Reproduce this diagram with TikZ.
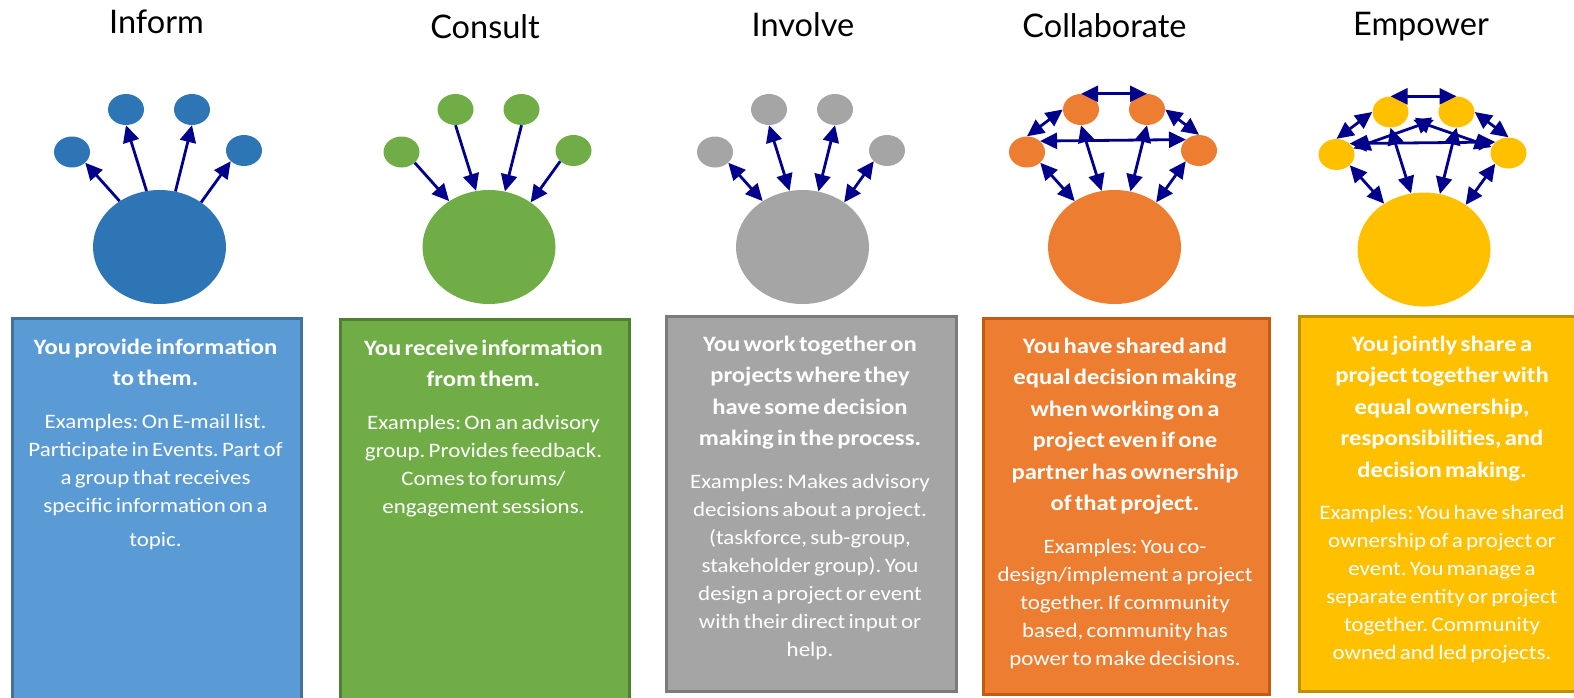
\documentclass[tikz,border=0pt]{standalone}
\usepackage{fontspec}
\setmainfont{Carlito}[FakeStretch=1.12]
\newfontfamily\headfont{Lato}
\usetikzlibrary{shapes.geometric,arrows.meta,positioning}
\setlength{\parindent}{0pt}
\frenchspacing

\definecolor{navy}{RGB}{0,0,140}
\definecolor{infdot}{HTML}{2E75B6}
\definecolor{inffill}{HTML}{5B9BD5}
\definecolor{infline}{HTML}{41719C}
\definecolor{congreen}{HTML}{70AD47}
\definecolor{conline}{HTML}{507E32}
\definecolor{invgrey}{HTML}{A5A5A5}
\definecolor{invline}{HTML}{7B7B7B}
\definecolor{colorange}{HTML}{ED7D31}
\definecolor{colline}{HTML}{C55A11}
\definecolor{empyellow}{HTML}{FFC000}
\definecolor{empline}{HTML}{BF9000}

\begin{document}
\begin{tikzpicture}[x=1pt,y=-1pt]

\tikzset{hub/.style = {ellipse, minimum width=133pt, minimum height=114pt, inner sep=0pt}}
\tikzset{leaf/.style = {ellipse, minimum width=36pt, minimum height=31pt, inner sep=0pt}}
\tikzset{card/.style = {rectangle, anchor=north west, line width=2.5pt, inner sep=0pt}}
\tikzset{blurb/.style = {anchor=north, text width=284pt, align=center, text=white, inner sep=0pt}}
\tikzset{heading/.style = {anchor=base, font=\headfont\fontsize{32.5}{38}\selectfont}}
\tikzset{arc/.style = {line width=2.8pt, draw=navy, >={Triangle[length=17pt,width=16pt]}}}
\newcommand{\bold}{\bfseries\fontsize{22}{31.5}\selectfont\strut}
\newcommand{\plain}{\par\vspace{14.5pt}\mdseries\fontsize{20.5}{28}\selectfont}

\useasboundingbox (0,0) rectangle (1574,697);

% boxes
\node[card, fill=inffill, draw=infline, minimum width=289pt, minimum height=395pt] (infbox) at (11,317) {};
\node[card, fill=congreen, draw=conline, minimum width=289pt, minimum height=395pt] (conbox) at (339,318) {};
\node[card, fill=invgrey, draw=invline, minimum width=290pt, minimum height=375pt] (invbox) at (665,315) {};
\node[card, fill=colorange, draw=colline, minimum width=286pt, minimum height=376pt] (colbox) at (982,317) {};
\node[card, fill=empyellow, draw=empline, minimum width=288pt, minimum height=375pt] (empbox) at (1298,315) {};

% box texts
\node[blurb] (inftext) at (155.5,332) {\bold You provide information\\to them.
  \plain Examples: On E-mail list.\\Participate in Events. Part of\\a group that receives\\specific information on a\\[6pt]topic.\par};
\node[blurb] (context) at (483.5,333) {\bold You receive information\\from them.
  \plain Examples: On an advisory\\group. Provides feedback.\\Comes to forums/\\engagement sessions.\par};
\node[blurb] (invtext) at (810,329) {\bold You work together on\\projects where they\\have some decision\\making in the process.
  \plain Examples: Makes advisory\\decisions about a project.\\(taskforce, sub-group,\\stakeholder group). You\\design a project or event\\with their direct input or\\help.\par};
\node[blurb] (coltext) at (1125,331) {\bold You have shared and\\equal decision making\\when working on a\\project even if one\\partner has ownership\\of that project.
  \plain Examples: You co-\\design/implement a project\\together. If community\\based, community has\\power to make decisions.\par};
\node[blurb] (emptext) at (1442,329) {\bold You jointly share a\\project together with\\equal ownership,\\responsibilities, and\\decision making.
  \plain Examples: You have shared\\ownership of a project or\\event. You manage a\\separate entity or project\\together. Community\\owned and led projects.\par};

% labels
\node[heading] (inflabel) at (156.5,33) {Inform};
\node[heading] (conlabel) at (485,38) {Consult};
\node[heading] (invlabel) at (803,36) {Involve};
\node[heading] (collabel) at (1104.5,37) {Collaborate};
\node[heading] (emplabel) at (1421,35) {Empower};

% inform
\node[hub, fill=infdot] (inf) at (159.5,247) {};
\node[leaf, fill=infdot] (inf1) at (72,152) {};
\node[leaf, fill=infdot] (inf2) at (126,109.5) {};
\node[leaf, fill=infdot] (inf3) at (192,109.5) {};
\node[leaf, fill=infdot] (inf4) at (244,150.5) {};
\draw[arc, ->] (inf.131) to (inf1.-39);
\draw[arc, ->] (inf.103) to (inf2.-90);
\draw[arc, ->] (inf.74) to (inf3.-90);
\draw[arc, ->] (inf.47) to (inf4.219);

% consult
\node[hub, fill=congreen] (con) at (489,247) {};
\node[leaf, fill=congreen] (con1) at (401.5,152) {};
\node[leaf, fill=congreen] (con2) at (455.5,109.5) {};
\node[leaf, fill=congreen] (con3) at (521.5,109.5) {};
\node[leaf, fill=congreen] (con4) at (573.5,150.5) {};
\draw[arc, <-] (con.131) to (con1.-39);
\draw[arc, <-] (con.103) to (con2.-90);
\draw[arc, <-] (con.74) to (con3.-90);
\draw[arc, <-] (con.47) to (con4.219);

% involve
\node[hub, fill=invgrey] (inv) at (802.5,247) {};
\node[leaf, fill=invgrey] (inv1) at (715,152) {};
\node[leaf, fill=invgrey] (inv2) at (769,109.5) {};
\node[leaf, fill=invgrey] (inv3) at (835,109.5) {};
\node[leaf, fill=invgrey] (inv4) at (887,150.5) {};
\draw[arc, <->] (inv.131) to (inv1.-39);
\draw[arc, <->] (inv.103) to (inv2.-90);
\draw[arc, <->] (inv.74) to (inv3.-90);
\draw[arc, <->] (inv.47) to (inv4.219);

% collaborate
\node[hub, fill=colorange] (col) at (1114.5,247) {};
\node[leaf, fill=colorange] (col1) at (1027,152) {};
\node[leaf, fill=colorange] (col2) at (1081,109.5) {};
\node[leaf, fill=colorange] (col3) at (1147,109.5) {};
\node[leaf, fill=colorange] (col4) at (1199,150.5) {};
\draw[arc, <->] (col.131) to (col1.-39);
\draw[arc, <->] (col.103) to (col2.-90);
\draw[arc, <->] (col.74) to (col3.-90);
\draw[arc, <->] (col.47) to (col4.219);
\draw[arc, <->] (col2.north) to (col3.north);
\draw[arc, <->] (col1.north) to (col2.west);
\draw[arc, <->] (col3.east) to (col4.north);
\draw[arc, <->] (col1.40) to (col4.140);

% empower
\node[hub, fill=empyellow] (emp) at (1424,249.5) {};
\node[leaf, fill=empyellow] (emp1) at (1336.5,154.5) {};
\node[leaf, fill=empyellow] (emp2) at (1390.5,112) {};
\node[leaf, fill=empyellow] (emp3) at (1456.5,112) {};
\node[leaf, fill=empyellow] (emp4) at (1508.5,153) {};
\draw[arc, <->] (emp.131) to (emp1.-39);
\draw[arc, <->] (emp.103) to (emp2.-90);
\draw[arc, <->] (emp.74) to (emp3.-90);
\draw[arc, <->] (emp.47) to (emp4.219);
\draw[arc, <->] (emp2.north) to (emp3.north);
\draw[arc, <->] (emp1.north) to (emp2.west);
\draw[arc, <->] (emp3.east) to (emp4.north);
\draw[arc, <->] (emp1.40) to (emp4.140);
\draw[arc, <->, shorten >=6pt] (emp1) to (emp3);
\draw[arc, <->, shorten >=6pt] (emp4) to (emp2);

\end{tikzpicture}
\end{document}
